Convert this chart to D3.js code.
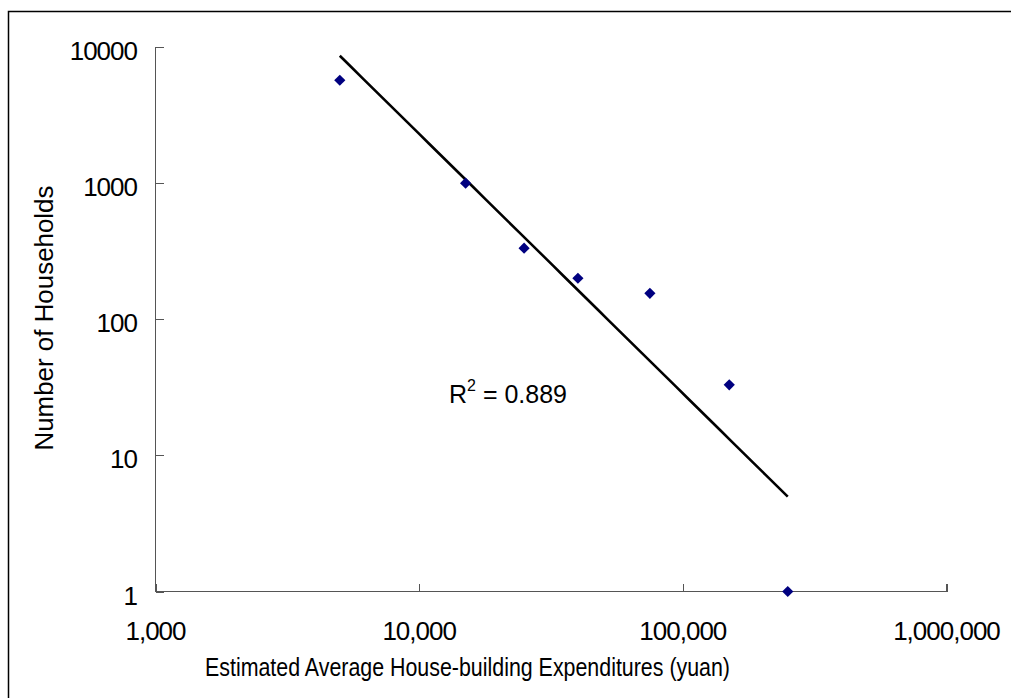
<!DOCTYPE html>
<html>
<head>
<meta charset="utf-8">
<script src="https://cdn.jsdelivr.net/npm/d3@7"></script>
<style>
  body { margin: 0; background: #fff; }
  text { font-family: "Liberation Sans", Arial, sans-serif; fill: #000; }
  .axis path, .axis line { stroke: #555; shape-rendering: crispEdges; }
  .tick-label { font-size: 26px; letter-spacing: -1px; }
</style>
</head>
<body>
<svg width="1011" height="698"></svg>
<script>
// data (bin midpoints in yuan, household counts)
var expenditure = [5000, 15000, 25000, 40000, 75000, 150000, 250000]
var households = [5700, 1000, 333, 200, 155, 33, 1]
var xTicks = [1000, 10000, 100000, 1000000]
var yTicks = [1, 10, 100, 1000, 10000]
var r2Label = '0.889'

var svg = d3.select('svg')

// chart frame (only top and left edges fall inside the picture)
svg.append('rect')
  .attr('x', 8.5).attr('y', 11.5)
  .attr('width', 1100).attr('height', 800)
  .attr('fill', 'none').attr('stroke', '#000').attr('stroke-width', 1.5)

var x = d3.scaleLog().domain([1000, 1000000]).range([155.5, 946.5])
var y = d3.scaleLog().domain([1, 10000]).range([591.5, 47])

// x axis, ticks point into the plot
var gx = svg.append('g').attr('class', 'axis')
  .attr('transform', 'translate(0,591.5)')
  .call(d3.axisTop(x).tickValues(xTicks).tickSize(8).tickFormat(''))
gx.select('.domain').attr('d', 'M' + x(1000) + ',0H' + x(1000000) + 'V-8')

svg.append('g').selectAll('text')
  .data(xTicks).enter()
  .append('text')
  .attr('class', 'tick-label')
  .attr('x', d => x(d))
  .attr('y', 640)
  .attr('text-anchor', 'middle')
  .text(d => d3.format(',')(d))

// y axis, ticks point into the plot
var gy = svg.append('g').attr('class', 'axis')
  .attr('transform', 'translate(155.5,0)')
  .call(d3.axisRight(y).tickValues(yTicks).tickSize(8).tickFormat(''))
gy.select('.domain').attr('d', 'M8,' + y(10000) + 'H0V' + y(1))

svg.append('g').selectAll('text')
  .data(yTicks).enter()
  .append('text')
  .attr('class', 'tick-label')
  .attr('x', 137)
  .attr('y', d => y(d) + 13)
  .attr('text-anchor', 'end')
  .text(d => d)

// power trend line: least squares in log-log space
var lx = expenditure.map(Math.log10)
var ly = households.map(Math.log10)
var mx = d3.mean(lx), my = d3.mean(ly)
var sxy = d3.sum(lx, (v, i) => (v - mx) * (ly[i] - my))
var sxx = d3.sum(lx, v => (v - mx) * (v - mx))
var slope = sxy / sxx
var icpt = my - slope * mx
var xr = d3.extent(expenditure)
var trend = d3.range(0, 41).map(i => {
  var lv = Math.log10(xr[0]) + (Math.log10(xr[1]) - Math.log10(xr[0])) * i / 40
  return [Math.pow(10, lv), Math.pow(10, icpt + slope * lv)]
})

svg.append('path')
  .datum(trend)
  .attr('fill', 'none')
  .attr('stroke', '#000')
  .attr('stroke-width', 2.6)
  .attr('d', d3.line().x(d => x(d[0])).y(d => y(d[1])))

// points (diamonds)
svg.append('g').selectAll('path')
  .data(expenditure).enter()
  .append('path')
  .attr('transform', (d, i) => 'translate(' + x(d) + ',' + y(households[i]) + ')')
  .attr('d', d3.symbol().type(d3.symbolDiamond2).size(80))
  .attr('fill', '#000080')

// R squared label
var r2 = svg.append('text')
  .attr('x', 449).attr('y', 403)
  .style('font-size', '25px')
r2.append('tspan').text('R')
r2.append('tspan').attr('dy', -12).style('font-size', '16px').attr('dx', 0).text('2')
r2.append('tspan').attr('dy', 12).text(' = ' + r2Label)

// axis titles
svg.append('text')
  .attr('x', 205).attr('y', 676)
  .attr('textLength', 525).attr('lengthAdjust', 'spacingAndGlyphs')
  .style('font-size', '25px')
  .text('Estimated Average House-building Expenditures (yuan)')

svg.append('text')
  .attr('transform', 'translate(53,318) rotate(-90)')
  .attr('text-anchor', 'middle')
  .attr('textLength', 265).attr('lengthAdjust', 'spacingAndGlyphs')
  .style('font-size', '25px')
  .text('Number of Households')
</script>
</body>
</html>
